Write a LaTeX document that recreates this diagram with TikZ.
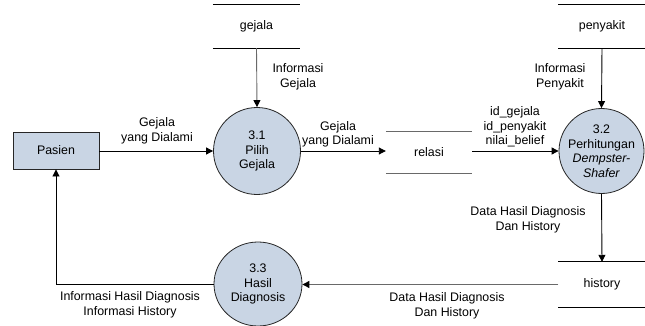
\documentclass[tikz,border=0pt]{standalone}
\usepackage{fontspec}
\setmainfont{Liberation Sans}
\usetikzlibrary{arrows.meta,shapes.geometric}
\definecolor{procfill}{RGB}{201,213,228}
\definecolor{lgray}{RGB}{105,105,105}
\begin{document}
\begin{tikzpicture}[x=1pt,y=-1pt,
  every node/.style={font=\fontsize{12.4}{14.5}\selectfont, align=center, inner sep=0pt},
  proc/.style={circle, draw=black!85, fill=procfill, minimum size=87pt, line width=0.8pt},
  procell/.style={ellipse, draw=black!85, fill=procfill, minimum width=88pt, minimum height=84pt, line width=0.8pt},
  entity/.style={rectangle, draw=black!85, fill=procfill, minimum width=86pt, minimum height=37pt, line width=0.9pt},
  store/.style={rectangle, minimum width=87pt, minimum height=43pt},
  storeline/.style={line width=0.9pt},
  flow/.style={line width=0.9pt, -{Triangle[length=7pt,width=7pt,color=black]}},
  lbl/.style={}
]
\useasboundingbox (0,0) rectangle (645,326);

% entity
\node[entity] (pasien) at (56,150.5) {Pasien};

% processes
\node[proc] (p31) at (257,151) {3.1\\Pilih\\Gejala};
\node[proc, minimum size=85pt] (p32) at (601.5,151) {3.2\\Perhitungan\\\textit{Dempster-}\\\textit{Shafer}};
\node[procell] (p33) at (258,284) {3.3\\Hasil\\Diagnosis};

% data stores
\node[store] (sg) at (256.5,26.5) {gejala};
\node[store] (sp) at (602,26.5) {penyakit};
\node[store, minimum width=86pt, minimum height=41pt] (sr) at (429,152.5) {relasi};
\node[store, minimum height=45pt] (sh) at (602,284.5) {history};

\draw[storeline] (sg.north west) -- (sg.north east) (sg.south west) -- (sg.south east);
\draw[storeline] (sp.north west) -- (sp.north east) (sp.south west) -- (sp.south east);
\draw[storeline, lgray] (sr.north west) -- (sr.north east) (sr.south west) -- (sr.south east);
\draw[storeline] (sh.north west) -- (sh.north east) (sh.south west) -- (sh.south east);

% flows
\draw[flow] (pasien.east |- p31.west) -- (p31.west);
\draw[flow, lgray] (sg.south) -- (p31.north);
\draw[flow] (p31.east) -- (sr.west |- p31.east);
\draw[flow] (sr.east |- p32.west) -- (p32.west);
\draw[flow] (sp.south) -- (p32.north);
\draw[flow] (p32.south) -- (sh.north);
\draw[flow, lgray] (sh.west) -- (sh.west -| p33.east);
\draw[flow] (p33.west) -| (pasien.south);

% labels
\node[lbl] (l1) at (157,131) {Gejala\\yang Dialami};
\node[lbl] (l2) at (298,77) {Informasi\\Gejala};
\node[lbl] (l3) at (338,134.5) {Gejala\\yang Dialami};
\node[lbl] (l4) at (515,127) {id\_gejala\\id\_penyakit\\nilai\_belief};
\node[lbl] (l5) at (560,77) {Informasi\\Penyakit};
\node[lbl] (l6) at (528,220) {Data Hasil Diagnosis\\Dan History};
\node[lbl] (l7) at (447,306) {Data Hasil Diagnosis\\Dan History};
\node[lbl] (l8) at (130,305) {Informasi Hasil Diagnosis\\Informasi History};
\end{tikzpicture}
\end{document}
